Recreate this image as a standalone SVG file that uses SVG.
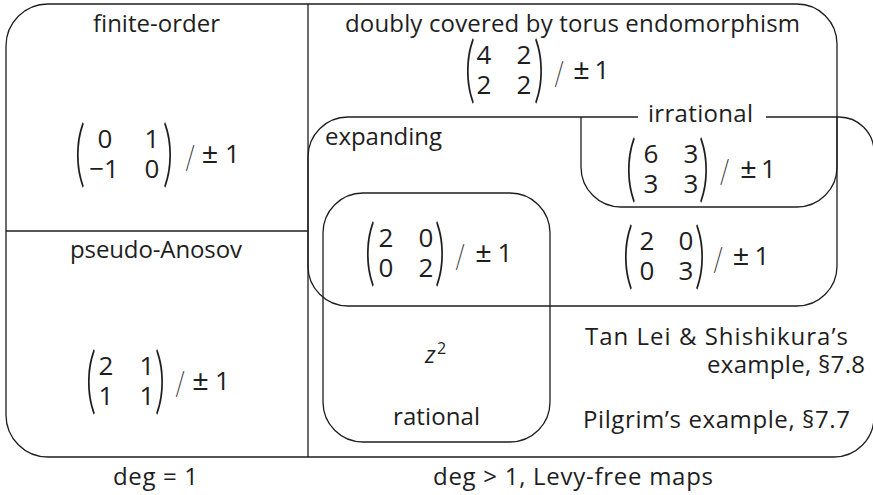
<svg xmlns="http://www.w3.org/2000/svg" xmlns:xlink="http://www.w3.org/1999/xlink" width="873" height="495" viewBox="0 0 873 495">
  <style>
    .edge { fill: none; stroke: #1e1e1e; stroke-width: 1.3; }
    .lbl { font-family: "Open Sans", "Liberation Sans", sans-serif; font-size: 24px; fill: #1e1e1e; }
    .mid { text-anchor: middle; }
    .ent { font-family: "Open Sans", "Liberation Sans", sans-serif; font-size: 26px; fill: #1e1e1e; text-anchor: middle; }
    .pm { font-family: "Liberation Sans", sans-serif; font-size: 28px; fill: #1e1e1e; text-anchor: middle; }
    .par { font-family: Lato, "Liberation Sans", sans-serif; font-weight: 300; font-size: 30px; fill: #1e1e1e; text-anchor: middle; }
    .sl { font-family: Lato, "Liberation Sans", sans-serif; font-weight: 300; font-size: 26px; fill: #1e1e1e; text-anchor: middle; }
    .it { font-style: italic; }
  </style>
  <defs>
    <!-- tall delimiters: ordinary glyphs stretched vertically, centred on y=0 -->
    <text id="lp" class="par" transform="scale(1.35,2.4)" y="9.7">(</text>
    <text id="rp" class="par" transform="scale(1.35,2.4)" y="9.7">)</text>
    <text id="slash" class="sl" transform="scale(0.9,1.3)" y="10.5">/</text>
  </defs>

  <rect width="873" height="495" fill="#ffffff"/>

  <!-- region boundaries -->
  <g id="connectors">
    <!-- outer frame: deg = 1 on the left, deg > 1 on the right -->
    <path class="edge" d="M308,4 H48 A42 42 0 0 0 6,46 V415 A42 42 0 0 0 48,457 H834 A40 40 0 0 0 874,417"/>
    <!-- degree split and finite-order / pseudo-Anosov split -->
    <path class="edge" d="M308,4 V457"/>
    <path class="edge" d="M6,231 H308"/>
  </g>

  <g id="doubly-covered">
    <path class="edge" d="M308,4 H797 A40 40 0 0 1 837,44 V266 A40 40 0 0 1 797,306"/>
    <text class="lbl mid" x="572.5" y="32" textLength="455" lengthAdjust="spacing">doubly covered by torus endomorphism</text>
  </g>

  <g id="expanding">
    <path class="edge" d="M874,152 A35 35 0 0 0 839,117 H348 A40 40 0 0 0 308,157 V266 A40 40 0 0 0 348,306 H797"/>
    <text class="lbl" x="325" y="145" textLength="117" lengthAdjust="spacing">expanding</text>
  </g>

  <g id="irrational">
    <path class="edge" d="M581,117 V167 A40 40 0 0 0 621,207 H797 A40 40 0 0 0 837,167 V117"/>
    <rect x="638" y="108" width="128" height="18" fill="#ffffff"/>
    <text class="lbl mid" x="700.5" y="122" textLength="105" lengthAdjust="spacing">irrational</text>
  </g>

  <g id="rational">
    <rect class="edge" x="323" y="193" width="227" height="249" rx="40" ry="40"/>
    <text class="lbl it" x="425" y="363">z</text>
    <text class="lbl" x="437" y="354" style="font-size:16px">2</text>
    <text class="lbl mid" x="436.5" y="425" textLength="87" lengthAdjust="spacing">rational</text>
  </g>

  <g id="finite-order">
    <text class="lbl mid" x="156.5" y="32" textLength="127" lengthAdjust="spacing">finite-order</text>
    <g transform="translate(0,155)">
      <use xlink:href="#lp" x="80" y="0"/>
      <text class="ent"><tspan x="105" y="-7">0</tspan><tspan x="104" y="23">−1</tspan></text>
      <text class="ent"><tspan x="152" y="-7">1</tspan><tspan x="152" y="23">0</tspan></text>
      <use xlink:href="#rp" x="168" y="0"/>
      <use xlink:href="#slash" x="190" y="0"/>
      <text class="pm" x="210" y="8">±</text>
      <text class="ent" x="232.5" y="8">1</text>
    </g>
  </g>

  <g id="pseudo-anosov">
    <text class="lbl mid" x="156" y="258" textLength="172" lengthAdjust="spacing">pseudo-Anosov</text>
    <g transform="translate(0,381.5)">
      <use xlink:href="#lp" x="91" y="0"/>
      <text class="ent"><tspan x="106" y="-7">2</tspan><tspan x="106" y="23">1</tspan></text>
      <text class="ent"><tspan x="147" y="-7">1</tspan><tspan x="147" y="23">1</tspan></text>
      <use xlink:href="#rp" x="160" y="0"/>
      <use xlink:href="#slash" x="180" y="0"/>
      <text class="pm" x="200.5" y="8">±</text>
      <text class="ent" x="222.5" y="8">1</text>
    </g>
  </g>

  <g id="matrix-4222">
    <g transform="translate(0,71)">
      <use xlink:href="#lp" x="470" y="0"/>
      <text class="ent"><tspan x="484" y="-7">4</tspan><tspan x="484" y="23">2</tspan></text>
      <text class="ent"><tspan x="524" y="-7">2</tspan><tspan x="524" y="23">2</tspan></text>
      <use xlink:href="#rp" x="539" y="0"/>
      <use xlink:href="#slash" x="559" y="0"/>
      <text class="pm" x="581.5" y="8">±</text>
      <text class="ent" x="602" y="8">1</text>
    </g>
  </g>

  <g id="matrix-6333">
    <g transform="translate(0,169.5)">
      <use xlink:href="#lp" x="631" y="0"/>
      <text class="ent"><tspan x="651" y="-7">6</tspan><tspan x="651" y="23">3</tspan></text>
      <text class="ent"><tspan x="691" y="-7">3</tspan><tspan x="691" y="23">3</tspan></text>
      <use xlink:href="#rp" x="704" y="0"/>
      <use xlink:href="#slash" x="724.5" y="0"/>
      <text class="pm" x="748.5" y="8">±</text>
      <text class="ent" x="768.5" y="8">1</text>
    </g>
  </g>

  <g id="matrix-2002">
    <g transform="translate(0,254)">
      <use xlink:href="#lp" x="370" y="0"/>
      <text class="ent"><tspan x="386" y="-7">2</tspan><tspan x="386" y="23">0</tspan></text>
      <text class="ent"><tspan x="426" y="-7">0</tspan><tspan x="426" y="23">2</tspan></text>
      <use xlink:href="#rp" x="440" y="0"/>
      <use xlink:href="#slash" x="460" y="0"/>
      <text class="pm" x="483.5" y="8">±</text>
      <text class="ent" x="505" y="8">1</text>
    </g>
  </g>

  <g id="matrix-2003">
    <g transform="translate(0,257)">
      <use xlink:href="#lp" x="628" y="0"/>
      <text class="ent"><tspan x="647" y="-7">2</tspan><tspan x="647" y="23">0</tspan></text>
      <text class="ent"><tspan x="686" y="-7">0</tspan><tspan x="686" y="23">3</tspan></text>
      <use xlink:href="#rp" x="700" y="0"/>
      <use xlink:href="#slash" x="718" y="0"/>
      <text class="pm" x="741" y="8">±</text>
      <text class="ent" x="762" y="8">1</text>
    </g>
  </g>

  <g id="examples">
    <text class="lbl mid" x="716.5" y="345" textLength="263" lengthAdjust="spacing">Tan Lei &amp; Shishikura’s</text>
    <text class="lbl" x="707" y="373" textLength="158" lengthAdjust="spacing">example, §7.8</text>
    <text class="lbl mid" x="716.5" y="428" textLength="267" lengthAdjust="spacing">Pilgrim’s example, §7.7</text>
  </g>

  <g id="captions">
    <text class="lbl mid" x="155.5" y="485" textLength="85" lengthAdjust="spacing">deg = 1</text>
    <text class="lbl mid" x="573" y="485" textLength="280" lengthAdjust="spacing">deg &gt; 1, Levy-free maps</text>
  </g>
</svg>
